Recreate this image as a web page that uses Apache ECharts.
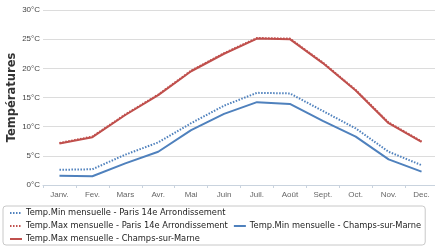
<!DOCTYPE html>
<html>
<head>
<meta charset="utf-8">
<script src="https://cdn.jsdelivr.net/npm/echarts@6/dist/echarts.min.js"></script>
<style>
  html, body { margin: 0; padding: 0; background: #fff; }
  #chart { width: 435px; height: 246px; }
</style>
</head>
<body>
<div id="chart"></div>
<script>
// month labels
const months = ["Janv.", "Fev.", "Mars", "Avr.", "Mai", "Juin", "Juil.", "Août", "Sept.", "Oct.", "Nov.", "Dec."];

// monthly temperatures (°C)
const parisMin = [2.6, 2.7, 5.2, 7.3, 10.6, 13.6, 15.8, 15.7, 12.7, 9.7, 5.7, 3.4];
const parisMax = [7.2, 8.3, 12.1, 15.5, 19.6, 22.6, 25.2, 25.1, 21.0, 16.3, 10.7, 7.5];
const champsMin = [1.6, 1.5, 3.7, 5.7, 9.4, 12.2, 14.2, 13.9, 11.0, 8.3, 4.4, 2.3];
const champsMax = [7.1, 8.2, 12.0, 15.4, 19.5, 22.5, 25.1, 25.0, 20.9, 16.2, 10.6, 7.4];

const names = [
    "Temp.Min mensuelle - Paris 14e Arrondissement",
    "Temp.Max mensuelle - Paris 14e Arrondissement",
    "Temp.Min mensuelle - Champs-sur-Marne",
    "Temp.Max mensuelle - Champs-sur-Marne"
];

const BLUE = "#4f81bd";
const RED = "#c0504d";

const chart = echarts.init(document.getElementById("chart"));

const lineSeries = (name, data, color, dotted, z) => ({
    name: name,
    type: "line",
    data: data,
    symbol: "none",
    z: z,
    color: color,
    lineStyle: {
        color: color,
        width: 2,
        type: dotted ? [1.5, 1.5] : "solid"
    }
});

chart.setOption({
    animation: false,
    textStyle: { fontFamily: "DejaVu Sans" },
    grid: { left: 43, right: -3, top: 10, bottom: 61, outerBoundsMode: "none", containLabel: false },
    legend: {
        left: 3,
        top: 206,
        width: 427,
        padding: [3, 4, 2, 6],
        itemWidth: 12,
        itemHeight: 10,
        itemGap: 5,
        itemStyle: { opacity: 0 },
        borderColor: "#c8c8c8",
        borderWidth: 1,
        borderRadius: 3,
        textStyle: { fontSize: 8.3, color: "#222", padding: [0, 0, 0, -1] },
        data: names
    },
    xAxis: {
        type: "category",
        data: months,
        boundaryGap: true,
        axisLine: { lineStyle: { color: "#c9d3de" } },
        axisTick: { show: true, lineStyle: { color: "#c9d3de" }, length: 3 },
        axisLabel: { fontSize: 8, color: "#666", margin: 6, fontFamily: "Liberation Sans" }
    },
    yAxis: {
        type: "value",
        min: 0,
        max: 30,
        interval: 5,
        name: "Températures",
        nameLocation: "middle",
        nameGap: 25,
        nameMoveOverlap: false,
        nameRotate: 90,
        nameTextStyle: { fontSize: 11.5, fontWeight: "bold", color: "#333" },
        axisLabel: { formatter: "{value}°C", fontSize: 8, color: "#444", margin: 3, fontFamily: "Liberation Sans" },
        axisLine: { show: false },
        axisTick: { show: false },
        splitLine: { lineStyle: { color: "#dcdcdc", width: 1 } }
    },
    series: [
        lineSeries(names[0], parisMin, BLUE, true, 4),
        lineSeries(names[1], parisMax, RED, true, 4),
        lineSeries(names[2], champsMin, BLUE, false, 2),
        lineSeries(names[3], champsMax, RED, false, 2)
    ]
});
</script>
</body>
</html>
